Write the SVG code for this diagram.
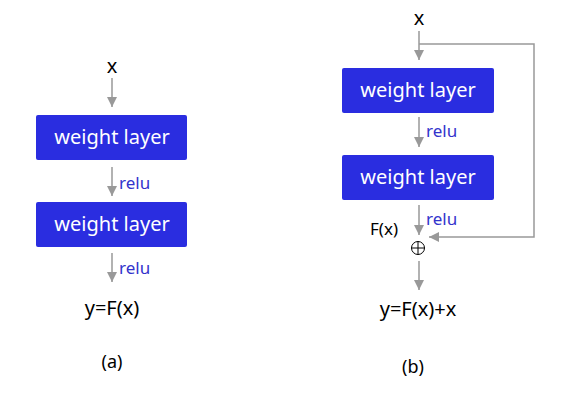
<svg xmlns="http://www.w3.org/2000/svg" width="562" height="403" viewBox="0 0 562 403">
<style>
.box{fill:#2a2de0;}
.bt{fill:#fff;font-family:"Noto Sans","Open Sans",sans-serif;font-size:20px;text-anchor:middle;}
.t{fill:#000;font-family:"Noto Sans","Open Sans",sans-serif;font-size:20px;text-anchor:middle;}
.r{fill:#3333cc;font-family:"Noto Sans","Open Sans",sans-serif;font-size:17px;}
.c{stroke:#999;stroke-width:1.5;fill:none;}
</style>
<defs>
<marker id="ah" viewBox="0 0 10 10" refX="10" refY="5" markerWidth="10" markerHeight="10" markerUnits="userSpaceOnUse" orient="auto">
<path d="M0,0 L10,5 L0,10 z" fill="#999"/>
</marker>
</defs>
<rect width="562" height="403" fill="#fff"/>
<g id="connectors">
<line class="c" x1="112" y1="78" x2="112" y2="107" marker-end="url(#ah)"/>
<line class="c" x1="112" y1="167" x2="112" y2="196" marker-end="url(#ah)"/>
<line class="c" x1="112" y1="253" x2="112" y2="282" marker-end="url(#ah)"/>
<line class="c" x1="419" y1="31" x2="419" y2="60" marker-end="url(#ah)"/>
<polyline class="c" points="419,44 534,44 534,237 429,237" marker-end="url(#ah)"/>
<line class="c" x1="419" y1="117" x2="419" y2="147" marker-end="url(#ah)"/>
<line class="c" x1="419" y1="205" x2="419" y2="235" marker-end="url(#ah)"/>
<line class="c" x1="419" y1="261" x2="419" y2="290" marker-end="url(#ah)"/>
</g>
<g id="a-x"><text class="t" x="112" y="73">x</text></g>
<g id="a-w1"><rect class="box" x="36" y="115" width="151" height="45" rx="2"/><text class="bt" x="112" y="144">weight layer</text></g>
<g id="a-relu1"><text class="r" x="119" y="189">relu</text></g>
<g id="a-w2"><rect class="box" x="36" y="202" width="151" height="45" rx="2"/><text class="bt" x="112" y="231">weight layer</text></g>
<g id="a-relu2"><text class="r" x="119" y="274">relu</text></g>
<g id="a-y"><text class="t" x="112" y="315">y=F(x)</text></g>
<g id="a-label"><text class="t" x="112" y="368" style="font-size:18px">(a)</text></g>
<g id="b-x"><text class="t" x="419" y="25">x</text></g>
<g id="b-w1"><rect class="box" x="342" y="68" width="152" height="45" rx="2"/><text class="bt" x="418" y="97">weight layer</text></g>
<g id="b-relu1"><text class="r" x="426" y="137">relu</text></g>
<g id="b-w2"><rect class="box" x="342" y="155" width="152" height="45" rx="2"/><text class="bt" x="418" y="184">weight layer</text></g>
<g id="b-relu2"><text class="r" x="426" y="225">relu</text></g>
<g id="b-fx"><text class="t" x="384" y="235" style="font-size:17px">F(x)</text></g>
<g id="b-plus"><circle cx="418" cy="248" r="6.5" fill="none" stroke="#000" stroke-width="1"/><line x1="411.5" y1="248" x2="424.5" y2="248" stroke="#000" stroke-width="1"/><line x1="418" y1="241.5" x2="418" y2="254.5" stroke="#000" stroke-width="1"/></g>
<g id="b-y"><text class="t" x="418" y="316">y=F(x)+x</text></g>
<g id="b-label"><text class="t" x="413" y="373" style="font-size:18px">(b)</text></g>
</svg>
